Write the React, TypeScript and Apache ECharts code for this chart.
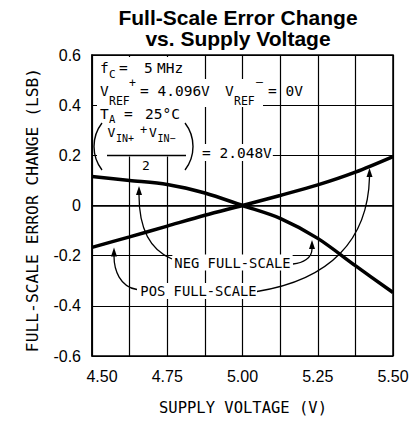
import React, { useEffect, useRef } from "react";
import * as echarts from "echarts";

const xValues = [4.5, 4.625, 4.75, 4.875, 5.0, 5.125, 5.25, 5.375, 5.5];
const posFullScale = [-0.167, -0.125, -0.082, -0.039, 0, 0.04, 0.082, 0.133, 0.195];
const negFullScale = [0.116, 0.1, 0.084, 0.05, 0, -0.051, -0.131, -0.24, -0.347];
const yTicks = [-0.6, -0.4, -0.2, 0, 0.2, 0.4, 0.6];
const xLabelTicks = [4.5, 4.75, 5.0, 5.25, 5.5];

const MONO = '"DejaVu Sans Mono", monospace';
const SANS = '"Liberation Sans", Arial, sans-serif';

function txt(text: string, x: number, y: number, size: number, opts: any = {}) {
  return {
    type: "text",
    x,
    y,
    z: 20,
    style: {
      text,
      fontFamily: opts.family || MONO,
      fontSize: size,
      fontWeight: opts.weight || "normal",
      lineHeight: opts.lh || Math.round(size * 0.9),
      fill: "#000",
      align: opts.align || "left",
      verticalAlign: "middle",
      backgroundColor: opts.bg || undefined,
      padding: opts.pad || 0,
    },
    rotation: opts.rotation || 0,
  };
}

function arrowHead(tx: number, ty: number, len = 9, hw = 3) {
  return {
    type: "polygon",
    z: 22,
    shape: { points: [[tx, ty], [tx - hw, ty + len], [tx + hw, ty + len]] },
    style: { fill: "#000" },
  };
}

function curve(x1: number, y1: number, cpx1: number, cpy1: number, cpx2: number, cpy2: number, x2: number, y2: number) {
  return {
    type: "bezierCurve",
    z: 22,
    shape: { x1, y1, cpx1, cpy1, cpx2, cpy2, x2, y2 },
    style: { stroke: "#000", lineWidth: 1.3, fill: null },
  };
}

export default function App() {
  const ref = useRef<HTMLDivElement>(null);
  useEffect(() => {
    if (!ref.current) return;
    const chart = echarts.init(ref.current, undefined, { renderer: "svg" });
    const graphic: any[] = [
      // title
      txt("Full-Scale Error Change", 238, 17, 21, { family: SANS, weight: "bold", align: "center", lh: 20 }),
      txt("vs. Supply Voltage", 238, 38.5, 21, { family: SANS, weight: "bold", align: "center", lh: 20 }),
      // axis names
      txt("SUPPLY VOLTAGE (V)", 243, 408, 15.5, { align: "center" }),
      txt("FULL-SCALE ERROR CHANGE (LSB)", 32, 210, 16.3, { align: "center", rotation: Math.PI / 2 }),
      // mask for conditions block
      { type: "rect", z: 15, shape: { x: 97, y: 57, width: 106, height: 99.5 }, style: { fill: "#fff" } },
      { type: "rect", z: 15, shape: { x: 203, y: 79, width: 60, height: 28 }, style: { fill: "#fff" } },
      // line 1
      txt("f", 100, 68, 14.5),
      txt("C", 109, 74, 11),
      txt("=", 119, 68, 14.5),
      txt("5", 144, 68, 14.5),
      txt("MHz", 157, 68, 14.5),
      // line 2
      txt("V", 100, 91, 14.5),
      txt("REF", 109, 101, 11.5),
      txt("+", 129, 83, 11.5),
      txt("= 4.096V", 140, 91, 14.5),
      txt("V", 225, 91, 14.5),
      txt("REF", 234, 101, 11.5),
      txt("\u2013", 256, 82, 11.5),
      txt("= 0V", 268, 91, 14.5),
      // line 3
      txt("T", 100, 114, 14.5),
      txt("A", 109, 118.5, 10.5),
      txt("=", 124, 114, 14.5),
      txt("25\u00B0C", 145, 114, 14.5),
      // fraction
      txt("V", 107.5, 132, 13),
      txt("IN+", 116, 138, 10),
      txt("+", 140, 130, 12),
      txt("V", 149, 132, 13),
      txt("IN\u2212", 157.5, 138, 10),
      { type: "line", z: 21, shape: { x1: 107, y1: 155.5, x2: 186, y2: 155.5 }, style: { stroke: "#000", lineWidth: 1.3 } },
      txt("2", 146, 165.5, 13, { align: "center", bg: "#fff", pad: [1, 2] }),
      { type: "arc", z: 21, shape: { cx: 132.5, cy: 146.5, r: 38.5, startAngle: Math.PI - 0.656, endAngle: Math.PI + 0.656, clockwise: true }, style: { stroke: "#000", lineWidth: 1.4, fill: null } },
      { type: "arc", z: 21, shape: { cx: 154.5, cy: 146.5, r: 38.5, startAngle: -0.656, endAngle: 0.656, clockwise: true }, style: { stroke: "#000", lineWidth: 1.4, fill: null } },
      txt("= 2.048V", 201, 152.5, 14.5, { bg: "#fff", pad: [2, 1] }),
      // series labels
      txt("NEG FULL-SCALE", 232.5, 262.5, 13.8, { align: "center", bg: "#fff", pad: [2, 2] }),
      txt("POS FULL-SCALE", 198.5, 291, 13.8, { align: "center", bg: "#fff", pad: [2, 2] }),
      // arrows
      curve(172, 259, 150, 250, 139, 230, 139, 195),
      arrowHead(139, 186),
      curve(293, 264, 303, 263, 312, 258, 312, 249),
      arrowHead(312, 240),
      curve(137, 289.5, 120, 287, 114, 270, 114, 256),
      arrowHead(114, 247.5),
      curve(257, 291.5, 330, 280, 368, 240, 369.5, 177),
      arrowHead(369.5, 168),
    ];

    chart.setOption({
      animation: false,
      backgroundColor: "#fff",
      grid: { left: 92, right: 19, top: 55, bottom: 68, show: true, borderColor: "#000", borderWidth: 1.5 },
      xAxis: {
        type: "value",
        min: 4.5,
        max: 5.5,
        interval: 0.125,
        axisLine: { show: true, lineStyle: { color: "#000", width: 1.5 } },
        axisTick: { show: false },
        splitLine: { show: true, lineStyle: { color: "#000", width: 1.2 } },
        axisLabel: {
          margin: 12,
          color: "#000",
          fontFamily: SANS,
          fontSize: 16,
          formatter: (v: number) => {
            const hit = xLabelTicks.find((t) => Math.abs(t - v) < 1e-6);
            if (hit === undefined) return "";
            if (Math.abs(hit - 4.5) < 1e-6) return "{a|" + hit.toFixed(2) + "}";
            return hit.toFixed(2);
          },
          rich: { a: { fontFamily: SANS, fontSize: 16, color: "#000", padding: [0, 0, 0, 20] } },
        },
      },
      yAxis: {
        type: "value",
        min: yTicks[0],
        max: yTicks[yTicks.length - 1],
        interval: 0.2,
        axisLine: { show: true, lineStyle: { color: "#000", width: 1.5 } },
        axisTick: { show: false },
        splitLine: { show: true, lineStyle: { color: "#000", width: 1.2 } },
        axisLabel: {
          margin: 11,
          color: "#000",
          fontFamily: SANS,
          fontSize: 16,
          formatter: (v: number) => (Math.abs(v) < 1e-9 ? "0" : v.toFixed(1)),
        },
      },
      series: [
        {
          name: "POS FULL-SCALE",
          type: "line",
          data: xValues.map((x, i) => [x, posFullScale[i]]),
          showSymbol: false,
          smooth: 0.3,
          lineStyle: { color: "#000", width: 3.5 },
          z: 5,
        },
        {
          name: "NEG FULL-SCALE",
          type: "line",
          data: xValues.map((x, i) => [x, negFullScale[i]]),
          showSymbol: false,
          smooth: 0.3,
          lineStyle: { color: "#000", width: 3.5 },
          z: 5,
        },
      ],
      graphic,
    });
    return () => chart.dispose();
  }, []);
  return <div ref={ref} style={{ width: 412, height: 424, position: "absolute", left: 0, top: 0 }} />;
}
